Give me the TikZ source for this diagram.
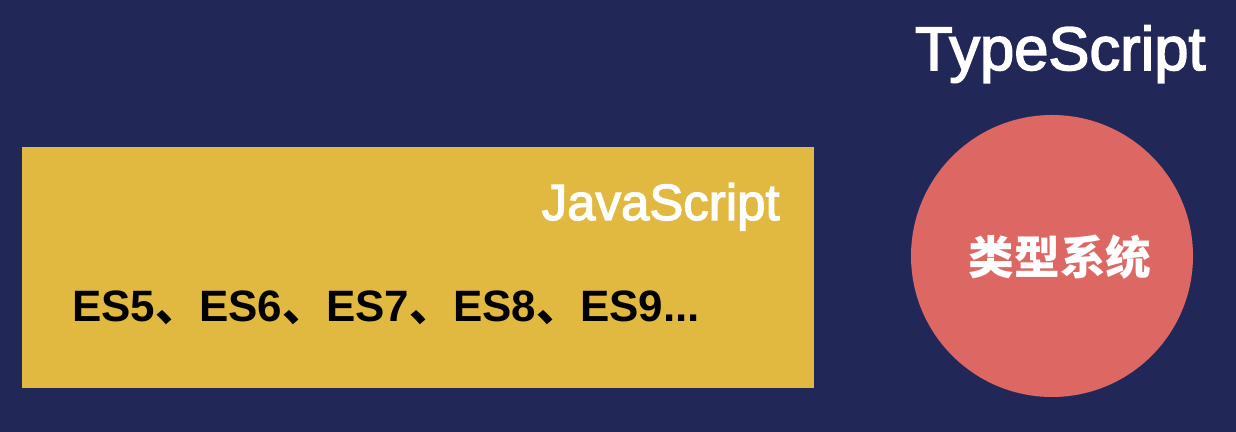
\documentclass[tikz,border=0pt]{standalone}
\usepackage{fontspec}
\setmainfont{Liberation Sans}
\newfontfamily\semibold[FakeBold=2.5]{Liberation Sans}
\newfontfamily\cjk{Noto Sans CJK SC}

\definecolor{navy}{RGB}{33,40,88}
\definecolor{jsyellow}{RGB}{226,185,64}
\definecolor{tsred}{RGB}{221,103,98}

\tikzset{
  jsbox/.style={fill=jsyellow, draw=none, minimum width=15.84cm, minimum height=4.82cm, inner sep=0pt},
  typebox/.style={circle, fill=tsred, draw=none, minimum size=5.64cm, inner sep=0pt},
  label/.style={inner sep=0pt, text=white}
}

\begin{document}
\begin{tikzpicture}
\fill[navy] (0,0) rectangle (24.72,8.64);
\useasboundingbox (0,0) rectangle (24.72,8.64);

\node[jsbox] (js) at (8.36,3.29) {};
\node[typebox] (types) at (21.04,3.52) {};

\node[label, anchor=base east, font=\fontsize{35}{40}\semibold] (tsname) at (24.12,7.24) {TypeScript};
\node[label, anchor=base east, font=\fontsize{29}{34}\semibold] (jsname) at (15.6,4.24) {JavaScript};
\node[inner sep=0pt, anchor=base west, text=black, font=\fontsize{25}{30}\selectfont\bfseries] (es) at (1.44,2.2)
  {ES5{\cjk 、}ES6{\cjk 、}ES7{\cjk 、}ES8{\cjk 、}ES9...};
\node[label, font=\fontsize{26}{30}\selectfont\cjk\bfseries] (typesys) at (21.2,3.5) {类型系统};

\end{tikzpicture}
\end{document}
